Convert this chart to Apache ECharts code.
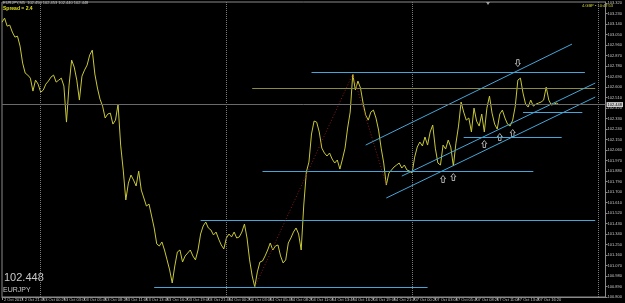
<!DOCTYPE html>
<html>
<head>
<meta charset="utf-8">
<title>EURJPY M5</title>
<script src="https://cdn.jsdelivr.net/npm/echarts@6/dist/echarts.min.js"></script>
<style>
  html, body { margin: 0; padding: 0; background: #000; }
  #chart { width: 625px; height: 303px; }
</style>
</head>
<body>
<div id="chart"></div>
<script>
// EURJPY close, one point per 20 minutes
const prices = [
  103.157, 103.192, 103.123, 103.132, 103.072, 103.029, 103.037, 102.952, 102.806, 102.720,
  102.703, 102.677, 102.566, 102.660, 102.626, 102.557, 102.574, 102.626, 102.652, 102.686,
  102.703, 102.643, 102.660, 102.677, 102.609, 102.300, 102.617, 102.832, 102.772, 102.660,
  102.489, 102.694, 102.746, 102.789, 102.875, 102.917, 102.712, 102.592, 102.497, 102.437,
  102.335, 102.369, 102.377, 102.283, 102.317, 102.454, 102.103, 101.889, 101.632, 101.777,
  101.846, 101.803, 101.752, 101.880, 101.717, 101.649, 101.580, 101.597, 101.495, 101.392,
  101.255, 101.237, 101.272, 101.203, 101.118, 101.032, 100.920, 101.066, 101.186, 101.203,
  101.100, 101.152, 101.177, 101.203, 101.152, 101.118, 101.203, 101.340, 101.409, 101.443,
  101.392, 101.375, 101.332, 101.357, 101.297, 101.246, 101.212, 101.306, 101.340, 101.315,
  101.357, 101.306, 101.315, 101.357, 101.426, 101.306, 101.118, 100.980, 100.886, 101.015,
  101.100, 101.109, 101.152, 101.203, 101.263, 101.203, 101.237, 101.246, 101.152, 101.092,
  101.118, 101.263, 101.306, 101.357, 101.392, 101.340, 101.203, 101.589, 101.872, 101.957,
  102.198, 102.309, 102.300, 102.215, 102.077, 102.035, 102.009, 102.035, 101.983, 101.949,
  101.975, 101.897, 101.983, 102.077, 102.249, 102.386, 102.712, 102.575, 102.652, 102.592,
  102.463, 102.360, 102.317, 102.386, 102.403, 102.335, 102.232, 102.077, 101.949, 101.760,
  101.863, 101.889, 101.915, 101.932, 101.949, 101.906, 101.932, 101.889, 101.880, 101.863,
  102.000, 102.086, 102.129, 102.095, 102.172, 102.103, 102.215, 102.275, 102.077, 101.949,
  101.932, 102.103, 102.069, 102.146, 102.086, 101.923, 102.120, 102.266, 102.472, 102.386,
  102.317, 102.335, 102.215, 102.420, 102.309, 102.266, 102.369, 102.215, 102.420, 102.523,
  102.377, 102.283, 102.240, 102.369, 102.403, 102.335, 102.283, 102.266, 102.317, 102.437,
  102.660, 102.677, 102.549, 102.454, 102.429, 102.489, 102.437, 102.454, 102.463, 102.472,
  102.489, 102.600, 102.489, 102.446, 102.454, 102.463, 102.448
];

const bid = 102.448;

// horizontal levels: [fromIndex, toIndex, price]
const levels = [
  [120, 226, 102.729],
  [202, 225, 102.383],
  [179, 217, 102.166],
  [101, 206, 101.880],
  [77, 230, 101.460],
  [59, 165, 100.886]
];
const oliveLevel = [97, 230, 102.592];

// channel: [fromIndex, fromPrice, toIndex, toPrice]
const channel = [
  [141, 102.103, 221, 102.969],
  [155, 101.837, 230, 102.635],
  [149, 101.649, 230, 102.515]
];

const zigzag = [[98, 100.886], [136, 102.712], [149, 101.760]];
const upArrows = [[171, 101.812], [175, 101.829], [187, 102.112], [193, 102.172], [198, 102.206]];
const downArrows = [[200, 102.806]];
const daySeparators = [15, 87, 159, 231];

// time axis from 2 Oct 2013 19:00, 20 min steps, weekend skipped
const months = ['Jan', 'Feb', 'Mar', 'Apr', 'May', 'Jun', 'Jul', 'Aug', 'Sep', 'Oct', 'Nov', 'Dec'];
const categories = [];
let t = Date.UTC(2013, 9, 2, 19, 0);
while (categories.length < 235) {
  const d = new Date(t);
  const wd = d.getUTCDay();
  if (wd !== 0 && wd !== 6) {
    const hh = String(d.getUTCHours()).padStart(2, '0');
    const mm = String(d.getUTCMinutes()).padStart(2, '0');
    const day = d.getUTCDate() + ' ' + months[d.getUTCMonth()];
    categories.push(categories.length === 0 ? day + ' ' + d.getUTCFullYear() : day + ' ' + hh + ':' + mm);
  }
  t += 20 * 60000;
}

const cyan = '#46a6d8';
const axisGrey = '#8a8a8a';
const textGrey = '#c8c8c8';
const font = 'Liberation Sans';

function seg(a, pa, b, pb, style) {
  return [{ coord: [a, pa], lineStyle: style }, { coord: [b, pb] }];
}

const markData = [];
daySeparators.forEach((i) => {
  markData.push({ xAxis: i, lineStyle: { color: '#7a7a7a', type: 'dotted', width: 1 } });
});
levels.forEach(([a, b, p]) => markData.push(seg(a, p, b, p, { color: cyan, width: 1, type: 'solid' })));
markData.push(seg(oliveLevel[0], oliveLevel[2], oliveLevel[1], oliveLevel[2], { color: '#8a8a44', width: 1, type: 'solid' }));
channel.forEach(([a, pa, b, pb]) => markData.push(seg(a, pa, b, pb, { color: cyan, width: 1, type: 'solid' })));
for (let k = 0; k < zigzag.length - 1; k++) {
  markData.push(seg(zigzag[k][0], zigzag[k][1], zigzag[k + 1][0], zigzag[k + 1][1], { color: '#8b1a1a', width: 1, type: [1, 2] }));
}
markData.push({
  yAxis: bid,
  lineStyle: { color: '#6a6a6a', type: 'solid', width: 1 },
  label: {
    show: true,
    position: 'end',
    distance: 1,
    formatter: bid.toFixed(3),
    color: '#000',
    backgroundColor: '#d0d0d0',
    padding: [1, 1, 0, 1],
    fontSize: 4,
    fontFamily: font
  }
});

const arrowPath = 'path://M4,0 L8,4 L6,4 L6,9 L2,9 L2,4 L0,4 Z';

const chart = echarts.init(document.getElementById('chart'));
chart.setOption({
  animation: false,
  backgroundColor: '#000',
  grid: {
    left: 2,
    right: 13,
    top: 2,
    bottom: 6,
    show: true,
    borderColor: axisGrey,
    borderWidth: 1
  },
  xAxis: {
    type: 'category',
    data: categories,
    boundaryGap: false,
    axisLine: { lineStyle: { color: axisGrey } },
    axisTick: {
      show: true,
      length: 3,
      interval: (i) => i % 8 === 0 && i <= 208,
      lineStyle: { color: axisGrey }
    },
    axisLabel: {
      interval: (i) => i % 8 === 0 && i <= 208,
      align: 'left',
      margin: 1,
      padding: [0, 0, 0, 2],
      fontSize: 4,
      fontFamily: font,
      color: textGrey
    },
    splitLine: { show: false }
  },
  yAxis: {
    type: 'value',
    position: 'right',
    min: 100.8,
    max: 103.33,
    interval: 0.09,
    axisLine: { show: true, lineStyle: { color: axisGrey } },
    axisTick: { show: true, length: 2, lineStyle: { color: axisGrey } },
    axisLabel: {
      margin: 2,
      fontSize: 4,
      fontFamily: font,
      color: textGrey,
      showMaxLabel: false,
      formatter: (v) => v.toFixed(3)
    },
    splitLine: { show: false }
  },
  graphic: [
    { type: 'text', left: 3, top: 1, style: { text: 'EURJPY,M5  102.450 102.453 102.440 102.448', fill: textGrey, font: '4px ' + font } },
    { type: 'text', left: 3, top: 6, style: { text: 'Spread = 2.4', fill: '#e2e21a', font: 'bold 5px ' + font } },
    { type: 'text', left: 582, top: 4, style: { text: '4.GBP \u2022 10:47:53', fill: '#d8d840', font: '4px ' + font } },
    { type: 'text', left: 4, top: 272, style: { text: '102.448', fill: textGrey, font: '11px ' + font } },
    { type: 'text', left: 3, top: 287, style: { text: 'EURJPY', fill: textGrey, font: '7px ' + font } },
    { type: 'polygon', shape: { points: [[486, 2], [490, 2], [488, 5]] }, style: { fill: '#a0a0a0' } }
  ],
  series: [
    {
      name: 'EURJPY',
      type: 'line',
      data: prices,
      symbol: 'none',
      silent: true,
      z: 3,
      lineStyle: { color: '#c8c838', width: 1 },
      markLine: {
        silent: true,
        symbol: ['none', 'none'],
        label: { show: false },
        data: markData
      }
    },
    {
      name: 'up',
      type: 'scatter',
      data: upArrows,
      symbol: arrowPath,
      symbolSize: [5, 7],
      silent: true,
      z: 4,
      itemStyle: { color: '#000', borderColor: '#ffffff', borderWidth: 0.8 }
    },
    {
      name: 'down',
      type: 'scatter',
      data: downArrows,
      symbol: arrowPath,
      symbolSize: [5, 7],
      symbolRotate: 180,
      silent: true,
      z: 4,
      itemStyle: { color: '#000', borderColor: '#ffffff', borderWidth: 0.8 }
    }
  ]
});
</script>
</body>
</html>
